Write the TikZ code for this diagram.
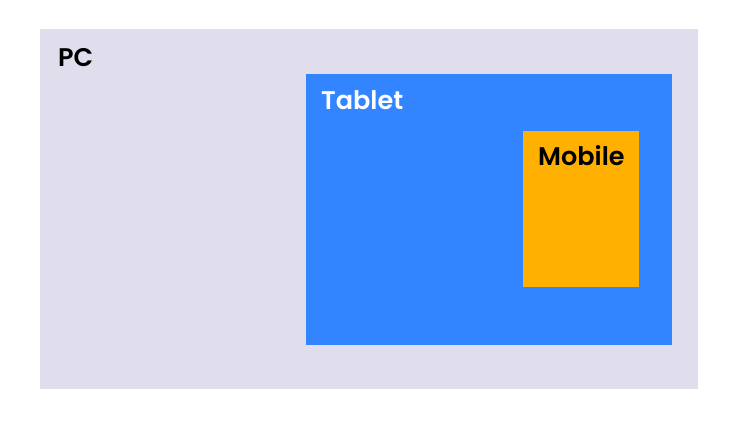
\documentclass[tikz,border=0pt]{standalone}
\usepackage{fontspec}
\setmainfont{Poppins}[BoldFont={* SemiBold}]
\usepackage{tikz}
\definecolor{pcgrey}{HTML}{E0DEEC}
\definecolor{tabblue}{HTML}{3385FF}
\definecolor{mobyellow}{HTML}{FFB000}
\tikzset{
  screenlabel/.style={anchor=base west,inner sep=0pt,font=\fontsize{25.5}{30}\selectfont\bfseries}
}

\begin{document}
\begin{tikzpicture}[x=1pt,y=-1pt]
    \useasboundingbox (0,0) rectangle (731,427);
    \fill[pcgrey] (40,29) rectangle (698,389);
    \node[screenlabel,black] (pc) at (58,67) {PC};
    \fill[tabblue] (306,74) rectangle (672,345);
    \node[screenlabel,white] (tablet) at (321,110) {Tablet};
    \fill[mobyellow] (523,131) rectangle (639,287);
    \node[screenlabel,black] (mobile) at (538,166) {Mobile};
\end{tikzpicture}
\end{document}
